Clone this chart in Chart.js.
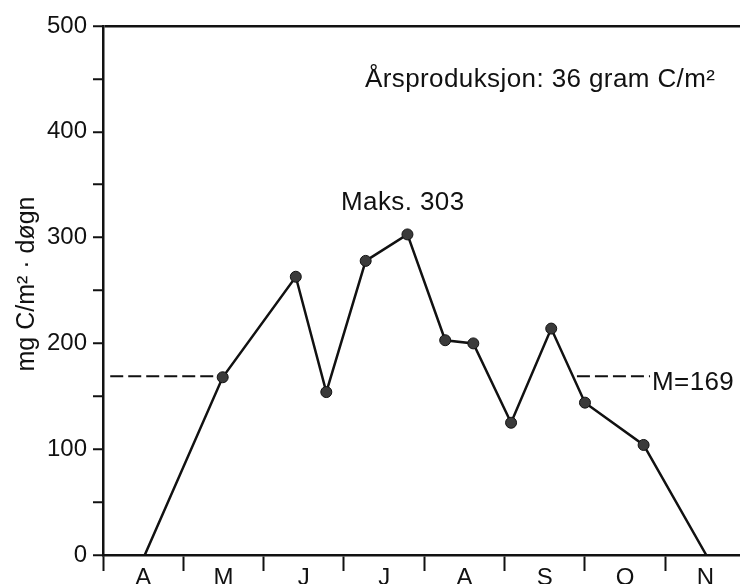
<!DOCTYPE html>
<html>
<head>
<meta charset="utf-8">
<script src="https://cdn.jsdelivr.net/npm/chart.js@4"></script>
<style>
  html, body { margin: 0; padding: 0; background: #fff; overflow: hidden; }
  canvas { display: block; }
</style>
</head>
<body>
<canvas id="myChart" width="740" height="584"></canvas>
<script>
// months shown under the axis (labels sit in the middle of each month)
const monthLabels = ['A', 'M', 'J', 'J', 'A', 'S', 'O', 'N'];

// sampling dates in month units (0 = start of April) and production values
const sampleMonth = [0.52, 1.49, 2.40, 2.78, 3.27, 3.79, 4.26, 4.61, 5.08, 5.58, 6.00, 6.73, 7.51];
const production = [0, 168, 263, 154, 278, 303, 203, 200, 125, 214, 144, 104, 0];

// mean line (M=169), drawn as two dashed pieces
const meanValue = 169;
const meanLeftX = [0.09, 1.49];
const meanRightX = [5.90, 6.81];

// y axis
const yMax = 500;
const yStep = 50;
const yLabelStep = 100;

const font = "'Liberation Sans', Arial, Helvetica, sans-serif";
const ink = '#111';

const toPoints = (xs, ys) => xs.map((x, i) => ({ x: x, y: ys[i] }));

const textPlugin = {
    id: 'texts',
    afterDraw(chart) {
        const ctx = chart.ctx;
        ctx.save();
        ctx.fillStyle = ink;
        ctx.textBaseline = 'alphabetic';
        ctx.textAlign = 'left';
        ctx.font = '26px ' + font;
        ctx.letterSpacing = '0.4px';
        ctx.fillText('Årsproduksjon: 36 gram C/m²', 365, 87);
        ctx.fillText('Maks. 303', 341, 210);
        ctx.fillText('M=169', 652, 390);

        // y axis title
        ctx.font = '25px ' + font;
        ctx.letterSpacing = '0px';
        ctx.translate(34, 284);
        ctx.rotate(-Math.PI / 2);
        ctx.textAlign = 'center';
        ctx.fillText('mg C/m² · døgn', 0, 0);
        ctx.restore();
    }
};

new Chart('myChart', {
    type: 'line',
    data: {
        datasets: [{
            data: toPoints(sampleMonth, production),
            borderColor: ink,
            borderWidth: 2.5,
            pointRadius: ctx => production[ctx.dataIndex] === 0 ? 0 : 5.5,
            pointBackgroundColor: '#3a3a3a',
            pointBorderColor: ink,
            pointBorderWidth: 1,
            tension: 0,
            fill: false
        }, {
            data: toPoints(meanLeftX, [meanValue, meanValue]),
            borderColor: ink,
            borderWidth: 2,
            borderDash: [13, 5],
            pointRadius: 0,
            fill: false
        }, {
            data: toPoints(meanRightX, [meanValue, meanValue]),
            borderColor: ink,
            borderWidth: 2,
            borderDash: [13, 5],
            pointRadius: 0,
            fill: false
        }]
    },
    options: {
        responsive: false,
        animation: false,
        layout: { padding: { top: 26, right: 0, left: 0, bottom: 0 } },
        plugins: {
            legend: { display: false },
            tooltip: { enabled: false },
            title: { display: false }
        },
        scales: {
            x: {
                type: 'linear',
                min: 0,
                max: 7.93,
                afterBuildTicks: scale => {
                    const ticks = [];
                    for (let i = 0; i < monthLabels.length; i++) {
                        ticks.push({ value: i });
                        ticks.push({ value: i + 0.5 });
                    }
                    scale.ticks = ticks;
                },
                afterFit: scale => { scale.height = 29; },
                ticks: {
                    autoSkip: false,
                    maxRotation: 0,
                    padding: -7,
                    color: ink,
                    font: { family: font, size: 24 },
                    callback: value => Number.isInteger(value) ? '' : monthLabels[Math.floor(value)]
                },
                grid: {
                    drawOnChartArea: false,
                    tickLength: 16,
                    tickWidth: 2,
                    tickColor: ctx => Number.isInteger(ctx.tick.value) ? ink : 'rgba(0,0,0,0)'
                },
                border: { display: true, color: ink, width: 2.5 }
            },
            y: {
                min: 0,
                max: yMax,
                afterFit: scale => { scale.width = 103; },
                ticks: {
                    stepSize: yStep,
                    padding: 6,
                    color: ink,
                    font: { family: font, size: 24 },
                    callback: value => value % yLabelStep === 0 ? value : ''
                },
                grid: {
                    drawOnChartArea: true,
                    lineWidth: 2.5,
                    color: ctx => ctx.tick && ctx.tick.value === yMax ? ink : 'rgba(0,0,0,0)',
                    tickLength: 10,
                    tickWidth: 2,
                    tickColor: ink
                },
                border: { display: true, color: ink, width: 2.5 }
            }
        }
    },
    plugins: [textPlugin]
});
</script>
</body>
</html>
